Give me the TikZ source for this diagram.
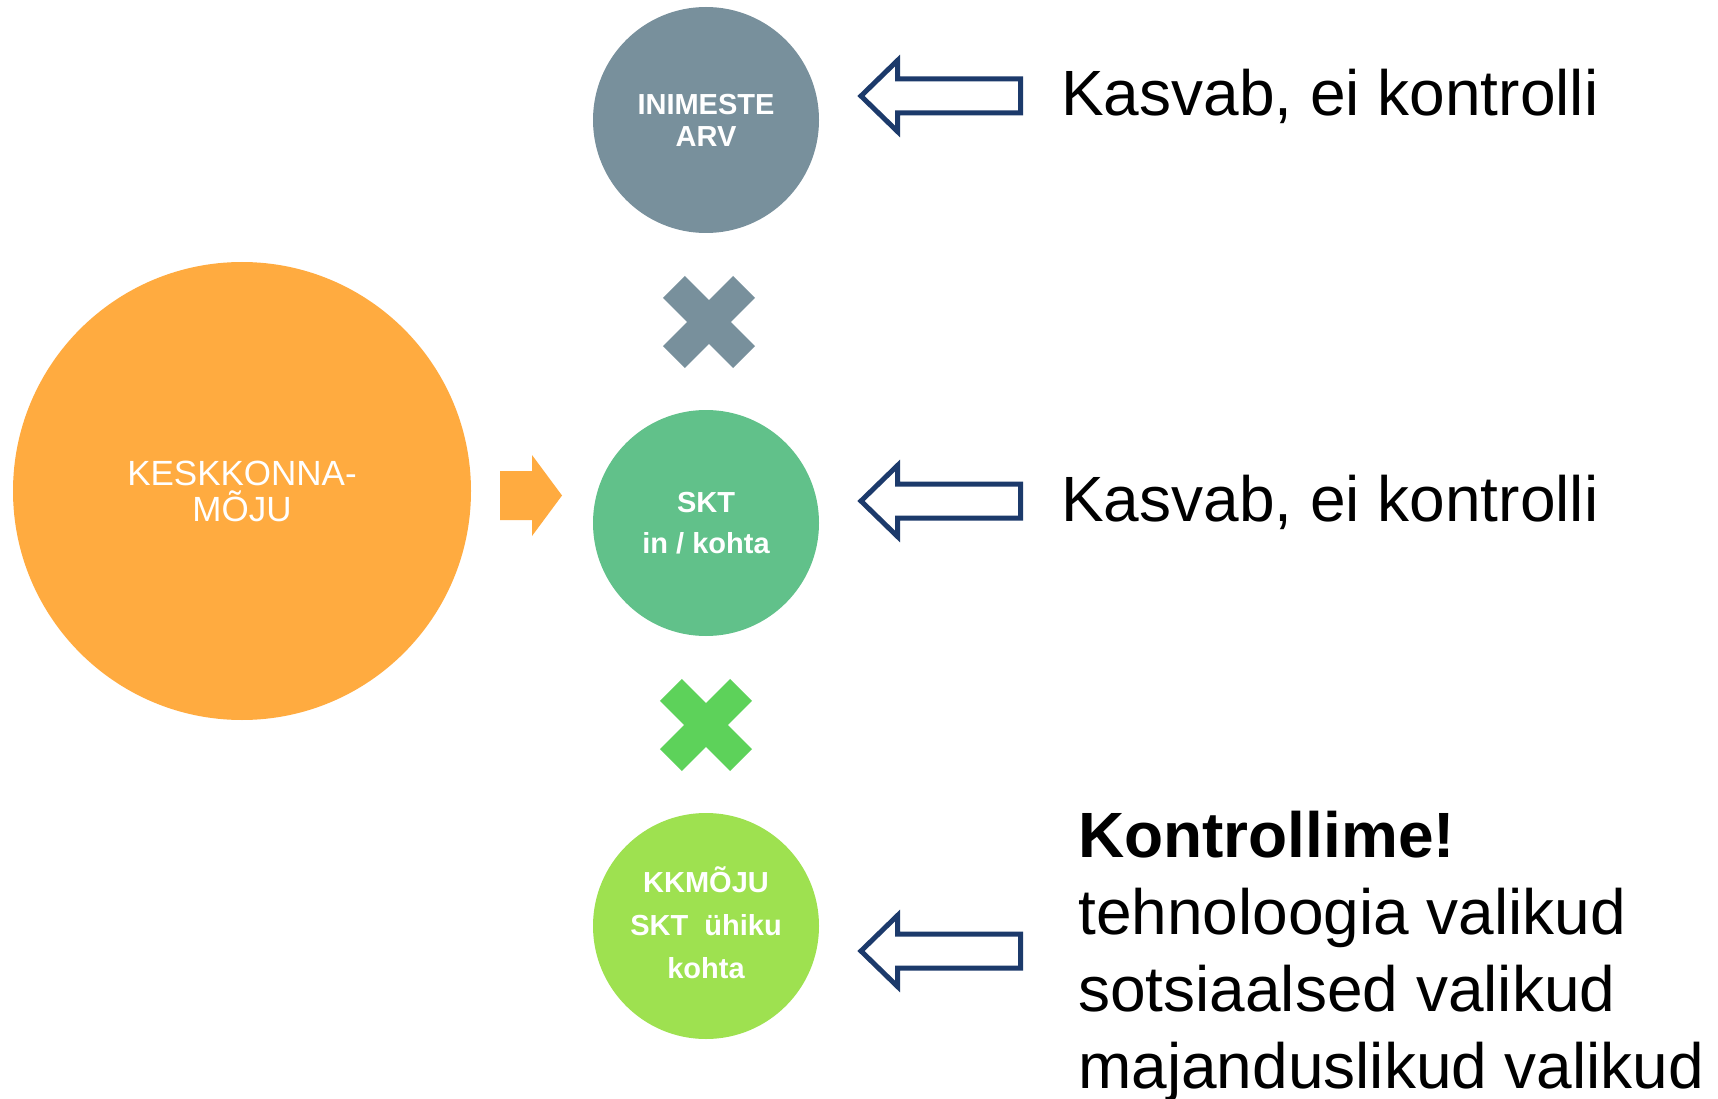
\documentclass[tikz,border=0pt]{standalone}
\usepackage{fontspec}
\setmainfont{Liberation Sans}
\definecolor{slate}{HTML}{78909C}
\definecolor{orangec}{HTML}{FFAB40}
\definecolor{sktgreen}{HTML}{61C18A}
\definecolor{limegreen}{HTML}{9EE150}
\definecolor{xgreen}{HTML}{5DD25A}
\definecolor{navyc}{HTML}{1C3A6B}
\begin{document}
\begin{tikzpicture}[x=1pt,y=-1pt,
  bubble/.style={circle, inner sep=0pt, minimum size=226pt, text=white, align=center,
    font=\bfseries\fontsize{29}{41}\selectfont},
  bigtext/.style={anchor=base west, inner sep=0pt, font=\fontsize{64}{77}\selectfont},
  crossmark/.pic={\fill (49.6,15.5) -- (15.5,15.5) -- (15.5,49.6) -- (-15.5,49.6) -- (-15.5,15.5)
     -- (-49.6,15.5) -- (-49.6,-15.5) -- (-15.5,-15.5) -- (-15.5,-49.6) -- (15.5,-49.6)
     -- (15.5,-15.5) -- (49.6,-15.5) -- cycle;},
  hollowarrow/.pic={\draw[navyc, line width=5pt, line join=miter, miter limit=10, fill=white]
     (0,0) -- (36.5,-35.5) -- (36.5,-17) -- (159.5,-17) -- (159.5,17) -- (36.5,17) -- (36.5,35.5) -- cycle;}
]
\useasboundingbox (0,0) rectangle (1718,1099);
\fill[white] (0,0) rectangle (1718,1099);

% circles
\node[circle, inner sep=0pt, minimum size=458pt, fill=orangec, text=white, align=center,
  font=\fontsize{35}{36}\selectfont] (impact) at (242,491) {KESKKONNA-\\M\smash{Õ}JU};
\node[bubble, fill=slate, font=\bfseries\fontsize{29}{32}\selectfont] (people) at (706,120) {INIMESTE\\ARV};
\node[bubble, fill=sktgreen] (gdp) at (706,523) {SKT\\in / kohta};
\node[bubble, fill=limegreen, font=\bfseries\fontsize{29}{43}\selectfont] (intensity) at (706,926)
  {KKM\smash{Õ}JU\\SKT\ \ ühiku\\kohta};

% multiplication signs
\pic[slate, rotate=45] at (709,322) {crossmark};
\pic[xgreen, rotate=45] at (706,725) {crossmark};

% orange block arrow
\fill[orangec] (500,471) -- (532,471) -- (532,455) -- (562,495.5) -- (532,536) -- (532,520) -- (500,520) -- cycle;

% hollow arrows
\pic at (861,96) {hollowarrow};
\pic at (861,501) {hollowarrow};
\pic at (861,951) {hollowarrow};

% texts
\node[bigtext] (t1) at (1061,116) {Kasvab, ei kontrolli};
\node[bigtext] (t2) at (1061,521) {Kasvab, ei kontrolli};
\node[bigtext, font=\bfseries\fontsize{64}{77}\selectfont] (k0) at (1078,857) {Kontrollime!};
\node[bigtext] (k1) at (1078,934) {tehnoloogia valikud};
\node[bigtext] (k2) at (1078,1011) {sotsiaalsed valikud};
\node[bigtext] (k3) at (1078,1088) {majanduslikud valikud};
\end{tikzpicture}
\end{document}
